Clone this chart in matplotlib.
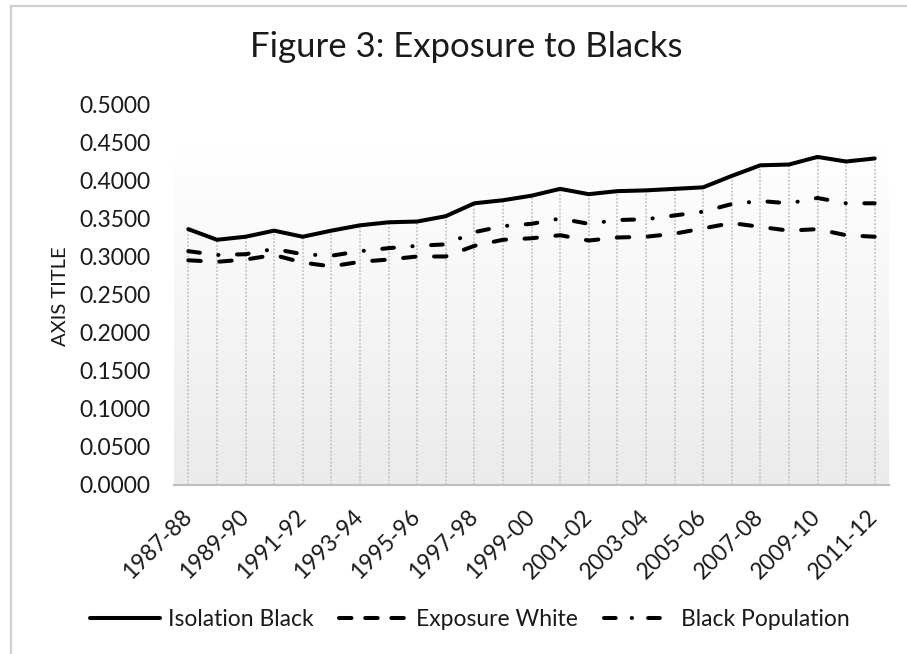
import matplotlib.pyplot as plt
import numpy as np
from matplotlib.colors import LinearSegmentedColormap
from matplotlib.lines import Line2D

plt.rcParams["font.family"] = ["Lato", "DejaVu Sans"]

years = [
    "1987-88", "1988-89", "1989-90", "1990-91", "1991-92", "1992-93",
    "1993-94", "1994-95", "1995-96", "1996-97", "1997-98", "1998-99",
    "1999-00", "2000-01", "2001-02", "2002-03", "2003-04", "2004-05",
    "2005-06", "2006-07", "2007-08", "2008-09", "2009-10", "2010-11",
    "2011-12",
]

isolation_black = [
    0.336, 0.322, 0.326, 0.334, 0.326, 0.334, 0.341, 0.345, 0.346,
    0.353, 0.370, 0.374, 0.380, 0.389, 0.382, 0.386, 0.387, 0.389,
    0.391, 0.406, 0.420, 0.421, 0.431, 0.425, 0.429,
]
exposure_white = [
    0.295, 0.293, 0.296, 0.302, 0.292, 0.287, 0.293, 0.296, 0.300,
    0.300, 0.314, 0.322, 0.324, 0.328, 0.321, 0.325, 0.326, 0.330,
    0.337, 0.344, 0.339, 0.334, 0.336, 0.328, 0.326,
]
black_population = [
    0.307, 0.302, 0.303, 0.310, 0.303, 0.301, 0.307, 0.311, 0.314,
    0.316, 0.332, 0.340, 0.343, 0.350, 0.343, 0.348, 0.349, 0.354,
    0.359, 0.369, 0.373, 0.370, 0.377, 0.370, 0.370,
]

yticks = np.arange(0, 0.5001, 0.05)
txt = "#1a1a1a"

fig = plt.figure(figsize=(9.07, 6.54), dpi=100)
ax = fig.add_axes([174 / 907, 1 - 484.5 / 654, 715 / 907, 380 / 654])

x = np.arange(len(years))
ax.set_xlim(-0.5, len(years) - 0.5)
ax.set_ylim(0, 0.5)

# gradient fill behind the lines
grad = np.linspace(0, 1, 256).reshape(-1, 1)
cmap = LinearSegmentedColormap.from_list("g", ["#ebebeb", "#ffffff"])
ax.imshow(grad, cmap=cmap, extent=(-0.5, len(years) - 0.5, 0, 0.443),
          origin="lower", aspect="auto", zorder=0)

# drop lines
top = np.maximum.reduce([isolation_black, exposure_white, black_population])
ax.vlines(x, 0, top, colors="#c4c4c4", linewidth=1.3,
          linestyles=(0, (1, 1)), zorder=1)

lw = 2.9
ax.plot(x, isolation_black, color="black", lw=lw, solid_capstyle="round",
        solid_joinstyle="round", zorder=3)
ax.plot(x, exposure_white, color="black", lw=lw, dashes=(3.1, 4.6),
        dash_capstyle="round", zorder=3)
ax.plot(x, black_population, color="black", lw=lw,
        dashes=(2.9, 4.6, 0.05, 4.6), dash_capstyle="round", zorder=3)

for s in ["top", "right", "left"]:
    ax.spines[s].set_visible(False)
ax.spines["bottom"].set_color("#bfbfbf")
ax.spines["bottom"].set_linewidth(1.6)
ax.spines["bottom"].set_zorder(4)

ax.set_yticks(yticks)
ax.set_yticklabels([f"{v:.4f}" for v in yticks], fontsize=16.5, color=txt)
ax.set_xticks(x[::2])
ax.set_xticklabels(years[::2], fontsize=16.5, color=txt, rotation=45,
                   ha="right", va="center", rotation_mode="anchor")
ax.tick_params(axis="both", length=0)
ax.tick_params(axis="y", pad=17)
ax.tick_params(axis="x", pad=21)

fig.text(60 / 907, 1 - 296 / 654, "AXIS TITLE", fontsize=14.5, color=txt,
         rotation=90, ha="center", va="center")

fig.text(466 / 907, 1 - 47 / 654, "Figure 3: Exposure to Blacks",
         fontsize=25, ha="center", va="center", color=txt)

handles = [
    Line2D([], [], color="black", lw=lw, solid_capstyle="round"),
    Line2D([], [], color="black", lw=lw, dashes=(3.1, 3.4), dash_capstyle="round"),
    Line2D([], [], color="black", lw=lw, dashes=(2.9, 4.0, 0.05, 4.0),
           dash_capstyle="round"),
]
fig.legend(handles, ["Isolation Black", "Exposure White", "Black Population"],
           loc="center", bbox_to_anchor=(470 / 907, 1 - 620 / 654), ncol=3,
           frameon=False, fontsize=16.5, handlelength=3.05, handletextpad=0.35,
           columnspacing=1.1, labelcolor=txt)

# chart border (top and left only)
fig.add_artist(Line2D([11 / 907, 11 / 907], [0, 1 - 6 / 654], color="#d0d0d0",
                      lw=1.6, transform=fig.transFigure))
fig.add_artist(Line2D([11 / 907, 1], [1 - 6 / 654, 1 - 6 / 654], color="#d0d0d0",
                      lw=1.6, transform=fig.transFigure))

fig.savefig("out.png", dpi=100)
